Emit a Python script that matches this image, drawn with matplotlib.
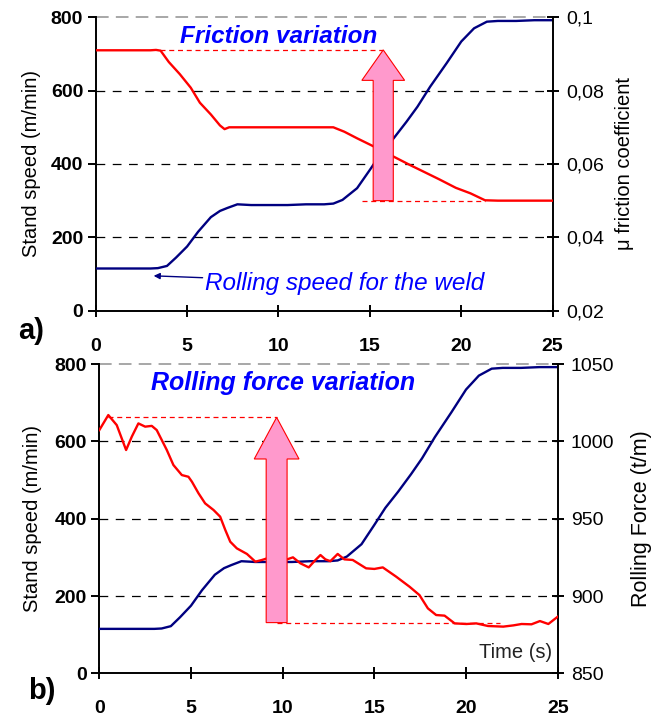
import matplotlib
matplotlib.use("Agg")
import matplotlib.pyplot as plt
from matplotlib.patches import FancyArrow

plt.rcParams['font.family'] = ['Liberation Sans', 'DejaVu Sans']

# ---------------- data ----------------
time_speed = [0, 1, 2, 3, 3.4, 3.9, 4.4, 5.0, 5.6, 6.3, 6.8, 7.2, 7.75, 8.5, 9.5,
              10.5, 11.5, 12.5, 13.0, 13.5, 14.3, 15.0, 15.6, 16.3, 17.0, 17.6,
              18.3, 19.2, 20.0, 20.7, 21.4, 22.0, 23.0, 24.0, 25.0]
stand_speed = [115, 115, 115, 115, 116, 122, 145, 175, 215, 255, 272, 280, 290,
               288, 288, 288, 290, 290, 292, 302, 334, 384, 428, 470, 515, 556,
               611, 675, 734, 770, 788, 790, 790, 792, 792]

time_mu = [0, 1, 2, 3, 3.3, 3.55, 4.0, 4.6, 5.2, 5.7, 6.3, 6.8, 7.05, 7.3, 8, 9,
           10, 11, 12, 13.0, 13.6, 14.3, 15.2, 16.3, 17.2, 17.9, 18.8, 19.7,
           20.5, 21.3, 22, 23, 24, 25]
friction_mu = [0.0910, 0.0910, 0.0910, 0.0910, 0.0911, 0.0909, 0.0878, 0.0845,
               0.0808, 0.0767, 0.0735, 0.0705, 0.0695, 0.0700, 0.0700, 0.0700,
               0.0700, 0.0700, 0.0700, 0.0700, 0.0688, 0.0670, 0.0648, 0.0620,
               0.0597, 0.0580, 0.0558, 0.0535, 0.0520, 0.0501, 0.0500, 0.0500,
               0.0500, 0.0500]

time_force = [0, 0.49, 0.95, 1.46, 1.77, 2.13, 2.5, 2.86, 3.13, 3.68, 4.04, 4.5,
              4.86, 5.05, 5.41, 5.77, 6.23, 6.59, 6.87, 7.14, 7.5, 8.05, 8.51,
              8.87, 9.14, 9.69, 10.24, 10.56, 10.97, 11.42, 11.79, 12.06, 12.33,
              12.6, 13.0, 13.36, 13.82, 14.55, 15.0, 15.46, 16.19, 16.92, 17.46,
              17.92, 18.37, 18.83, 19.38, 20.02, 20.56, 21.2, 22.03, 22.58,
              23.03, 23.57, 24.03, 24.49, 25.0]
rolling_force = [1007.3, 1017.0, 1010.5, 994.4, 1003.0, 1011.6, 1009.5, 1010.0,
                 1007.3, 994.4, 984.7, 978.2, 977.1, 973.9, 966.4, 959.9, 955.6,
                 951.3, 942.7, 935.1, 930.8, 927.2, 922.2, 923.3, 924.3, 923.5,
                 923.7, 925.0, 921.1, 918.5, 923.3, 926.5, 923.7, 922.5, 927.2,
                 923.7, 923.3, 917.9, 917.5, 918.5, 912.5, 906.0, 900.6, 892.0,
                 887.7, 887.3, 882.3, 881.9, 882.3, 880.6, 880.2, 881.0, 881.9,
                 881.7, 883.8, 881.9, 886.6]

x_ticks = [0, 5, 10, 15, 20, 25]
speed_ticks = [0, 200, 400, 600, 800]
mu_ticks = [0.02, 0.04, 0.06, 0.08, 0.1]
mu_tick_labels = ['0,02', '0,04', '0,06', '0,08', '0,1']
force_ticks = [850, 900, 950, 1000, 1050]

# annotation values (data units)
mu_high, mu_low = 0.0911, 0.0500
mu_arrow_x = 15.73
force_high, force_low = 1015.5, 882.8
force_arrow_x = 9.67

NAVY = '#000080'
RED = '#ff0000'
PINK = '#ff99cc'
TXT_BLUE = '#0000ff'

fig = plt.figure(figsize=(6.6, 7.17), dpi=100)
ax1 = fig.add_axes([0.145, 0.5667, 0.6924, 0.4092])
ax3 = fig.add_axes([0.1505, 0.0609, 0.6945, 0.4314])


def style_axes(ax, axr, left_pad):
    for s in ['top', 'right']:
        ax.spines[s].set_visible(False)
    for s in ['top', 'left', 'bottom']:
        axr.spines[s].set_visible(False)
    for s in ['left', 'bottom']:
        ax.spines[s].set_linewidth(1.4)
    axr.spines['right'].set_linewidth(1.4)
    ax.set_xlim(0, 25)
    ax.set_ylim(0, 800)
    ax.set_xticks(x_ticks)
    ax.set_yticks(speed_ticks)
    ax.tick_params(axis='x', direction='inout', length=9, width=1.4, pad=15,
                   labelsize=14)
    ax.tick_params(axis='y', direction='out', length=6, width=1.4, pad=3,
                   labelsize=14)
    for lab in ax.get_xticklabels() + ax.get_yticklabels():
        lab.set_fontweight('bold')
    axr.tick_params(axis='y', direction='inout', length=9, width=1.4, pad=5,
                    labelsize=14)
    for v in [200, 400, 600]:
        ax.axhline(v, color='black', lw=0.9, dashes=(7, 6), zorder=1)
    ax.axhline(800, color='#a0a0a0', lw=1.3, dashes=(7, 4), zorder=1,
               clip_on=False)
    ax.set_ylabel('Stand speed (m/min)', fontsize=14.5, labelpad=left_pad)
    ax.plot(time_speed, stand_speed, color=NAVY, lw=1.7, zorder=3)


# ---------------- panel a ----------------
ax2 = ax1.twinx()
style_axes(ax1, ax2, 7)
ax2.set_ylim(0.02, 0.1)
ax2.set_yticks(mu_ticks)
ax2.set_yticklabels(mu_tick_labels)
ax2.set_ylabel('\u03bc friction coefficient', fontsize=14.5, labelpad=8)
ax2.plot(time_mu, friction_mu, color=RED, lw=1.7, zorder=3)
ax2.plot([3.5, mu_arrow_x], [mu_high, mu_high], color=RED, lw=0.9,
         dashes=(4, 3), zorder=2)
ax2.plot([14.55, 21.3], [mu_low, mu_low], color=RED, lw=0.9,
         dashes=(4, 3), zorder=2)
ax2.add_patch(FancyArrow(mu_arrow_x, mu_low, 0, mu_high - mu_low, width=1.1,
                         head_width=2.34, head_length=0.0083,
                         length_includes_head=True, facecolor=PINK,
                         edgecolor=RED, lw=0.8, zorder=5))
ax1.text(10.0, 748, 'Friction variation', color=TXT_BLUE, fontsize=17.5,
         fontweight='bold', fontstyle='italic', ha='center', va='center')
ax1.annotate('Rolling speed for the weld', xy=(3.17, 95), xytext=(6.0, 75),
             color=TXT_BLUE, fontsize=17.5, fontstyle='italic', ha='left',
             va='center',
             arrowprops=dict(arrowstyle='-|>', color=NAVY, lw=1.0,
                             mutation_scale=9, shrinkA=0, shrinkB=0))
fig.text(0.027, 0.538, 'a)', fontsize=21, fontweight='bold', va='center')

# ---------------- panel b ----------------
ax4 = ax3.twinx()
style_axes(ax3, ax4, 9)
ax4.set_ylim(850, 1050)
ax4.set_yticks(force_ticks)
ax4.set_ylabel('Rolling Force (t/m)', fontsize=15.5, labelpad=12)
ax4.plot(time_force, rolling_force, color=RED, lw=1.7, zorder=3)
ax4.plot([0.49, force_arrow_x], [force_high, force_high], color=RED, lw=0.9,
         dashes=(4, 3), zorder=2)
ax4.plot([force_arrow_x, 21.85], [force_low, force_low], color=RED, lw=0.9,
         dashes=(4, 3), zorder=2)
ax4.add_patch(FancyArrow(force_arrow_x, force_low, 0, force_high - force_low,
                         width=1.14, head_width=2.44, head_length=26.9,
                         length_includes_head=True, facecolor=PINK,
                         edgecolor=RED, lw=0.8, zorder=5))
ax3.text(10.0, 750, 'Rolling force variation', color=TXT_BLUE, fontsize=18,
         fontweight='bold', fontstyle='italic', ha='center', va='center')
ax3.text(24.67, 53, 'Time (s)', color='#222222', fontsize=14.5, ha='right',
         va='center')
fig.text(0.042, 0.036, 'b)', fontsize=21, fontweight='bold', va='center')

fig.savefig('out.png', dpi=100)
